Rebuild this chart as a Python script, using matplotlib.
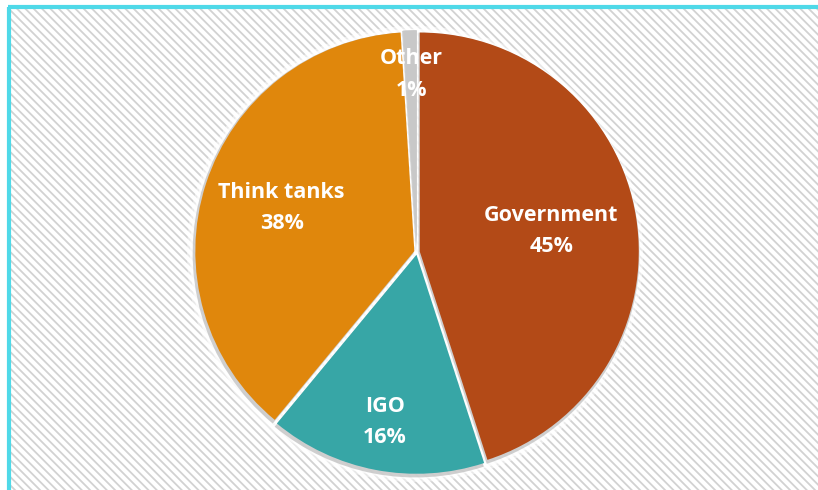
import numpy as np
import matplotlib.pyplot as plt
from matplotlib.patches import Rectangle

# data
labels = ['Government', 'IGO', 'Think tanks', 'Other']
shares = [45, 16, 38, 1]
colors = ['#B34A17', '#37A6A6', '#E0870C', '#C8C8C8']
label_r = [0.62, 0.79, 0.65, 0.81]   # where each label sits, fraction of radius

W, H = 818, 490
cx, cy, R = 417, 238, 219

plt.rcParams['hatch.linewidth'] = 1.3

fig = plt.figure(figsize=(W / 100, H / 100), dpi=100)
ax = fig.add_axes([0, 0, 1, 1])
ax.set_xlim(0, W)
ax.set_ylim(0, H)
ax.set_aspect('equal')
ax.axis('off')

# hatched background + cyan frame (top and left only, picture is cropped)
ax.add_patch(Rectangle((10, 0), W - 10, H - 9, facecolor='white',
                       edgecolor='#d2d2d2', linewidth=0, hatch='\\\\\\\\', zorder=0))
ax.plot([9, 9], [0, H - 7.5], color='#4fd9e8', lw=3, solid_capstyle='butt', zorder=1)
ax.plot([7.5, W], [H - 7.5, H - 7.5], color='#4fd9e8', lw=3, solid_capstyle='butt', zorder=1)

# soft white glow + gray shadow around the pie
for k, a in [(9, 0.5), (6, 0.7)]:
    ax.pie(shares, radius=R + k, center=(cx - 2, cy - 2), startangle=90,
           counterclock=False, colors=['white'] * len(shares),
           wedgeprops=dict(alpha=a, linewidth=0), frame=True)
ax.pie(shares, radius=R + 2, center=(cx - 1, cy - 2), startangle=90,
       counterclock=False, colors=['#b0b0b0'] * len(shares),
       explode=[2.5] * len(shares),
       wedgeprops=dict(alpha=0.6, linewidth=0), frame=True)

wedges, _ = ax.pie(shares, radius=R, center=(cx, cy), startangle=90,
                   counterclock=False, colors=colors,
                   explode=[2.8] * len(shares),
                   wedgeprops=dict(linewidth=0), frame=True)
ax.set_xlim(0, W)
ax.set_ylim(0, H)
ax.axis('off')

# labels
cum = np.cumsum([0] + shares[:-1])
for lab, v, c0, lr in zip(labels, shares, cum, label_r):
    ang = np.deg2rad(90 - 360 * (c0 + v / 2) / 100)
    x = cx + lr * R * np.cos(ang)
    y = cy + lr * R * np.sin(ang)
    ax.text(x, y, f'{lab}\n{v}%', ha='center', va='center', color='white',
            fontsize=15.5, fontweight='bold', family='Open Sans',
            linespacing=1.65, zorder=5)

fig.savefig('out.png', dpi=100)
